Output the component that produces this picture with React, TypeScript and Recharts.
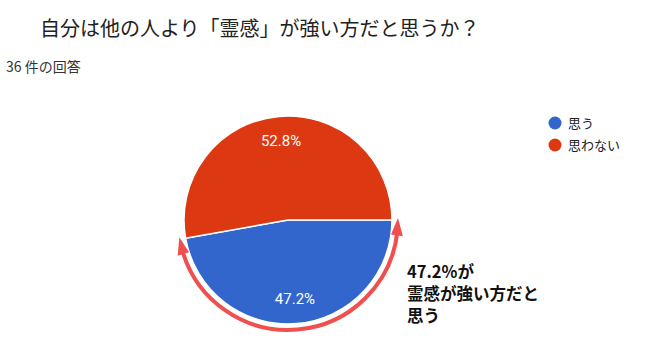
import { PieChart, Pie, Cell, Legend } from "recharts";

const categories: string[] = ["思う", "思わない"];
const shares: number[] = [47.2, 52.8];
const colors: string[] = ["#3366cc", "#dc3912"];

const title = "自分は他の人より「霊感」が強い方だと思うか？";
const subtitle = "36 件の回答";
const noteLines: string[] = ["47.2%が", "霊感が強い方だと", "思う"];

const W = 661;
const H = 352;
const CX = 288;
const CY = 220;
const R = 104;
const RADIAN = Math.PI / 180;

const font = "'Noto Sans CJK JP', 'Noto Sans', sans-serif";

const pt = (deg: number, r: number): [number, number] => [
  CX + r * Math.cos(deg * RADIAN),
  CY - r * Math.sin(deg * RADIAN),
];

const renderLabel = (p: any) => {
  const r = p.outerRadius * 0.76;
  const x = p.cx + r * Math.cos(-p.midAngle * RADIAN);
  const y = p.cy + r * Math.sin(-p.midAngle * RADIAN);
  return (
    <text x={x} y={y} fill="#fff" fontSize={15} fontFamily="Roboto, Arial, sans-serif" textAnchor="middle" dominantBaseline="central">
      {p.value.toFixed(1)}%
    </text>
  );
};

const LegendBox = () => (
  <svg width={110} height={50}>
    {categories.map((c, i) => (
      <g key={c}>
        <circle cx={7} cy={10 + i * 22} r={6.5} fill={colors[i]} />
        <text x={20} y={15 + i * 22} fontSize={13} fontFamily={font} fill="#222">{c}</text>
      </g>
    ))}
  </svg>
);

const Arrow = () => {
  const ar = 110;
  const head = (tipDeg: number, baseDeg: number) => {
    const tip = pt(tipDeg, ar);
    const b1 = pt(baseDeg, ar - 6);
    const b2 = pt(baseDeg, ar + 6);
    return `M${tip[0]},${tip[1]} L${b1[0]},${b1[1]} L${b2[0]},${b2[1]} Z`;
  };
  const s = pt(196, ar);
  const e = pt(354, ar);
  return (
    <g>
      <path d={`M${s[0]},${s[1]} A${ar},${ar} 0 0 0 ${e[0]},${e[1]}`} fill="none" stroke="#f04f4f" strokeWidth={4} />
      <path d={head(189, 198)} fill="#f04f4f" />
      <path d={head(1, 352)} fill="#f04f4f" />
    </g>
  );
};

export default function App() {
  const data = categories.map((name, i) => ({ name, value: shares[i] }));
  return (
    <div style={{ position: "fixed", left: 0, top: 0, width: W, height: H, background: "#fff" }}>
      <PieChart width={W} height={H} margin={{ top: 0, right: 0, bottom: 0, left: 0 }}>
        <Pie
          data={data}
          dataKey="value"
          nameKey="name"
          cx={CX}
          cy={CY}
          outerRadius={R}
          startAngle={0}
          endAngle={-360}
          stroke="#fff"
          strokeWidth={1.5}
          label={renderLabel}
          labelLine={false}
          isAnimationActive={false}
        >
          {data.map((d, i) => (
            <Cell key={d.name} fill={colors[i]} />
          ))}
        </Pie>
        <Legend
          layout="vertical"
          verticalAlign="top"
          align="right"
          content={() => <LegendBox />}
          wrapperStyle={{ left: 548, top: 113, width: 110 }}
        />
      </PieChart>
      <svg width={W} height={H} style={{ position: "absolute", left: 0, top: 0, pointerEvents: "none" }}>
        <text x={40} y={36} fontSize={20} fontFamily={font} fill="#222">{title}</text>
        <text x={6} y={72} fontSize={14} fontFamily={font} fill="#333">{subtitle}</text>
        <Arrow />
        {noteLines.map((l, i) => (
          <text key={i} x={407} y={278 + i * 22} fontSize={16.5} fontWeight="bold" fontFamily={font} fill="#111">{l}</text>
        ))}
      </svg>
    </div>
  );
}
